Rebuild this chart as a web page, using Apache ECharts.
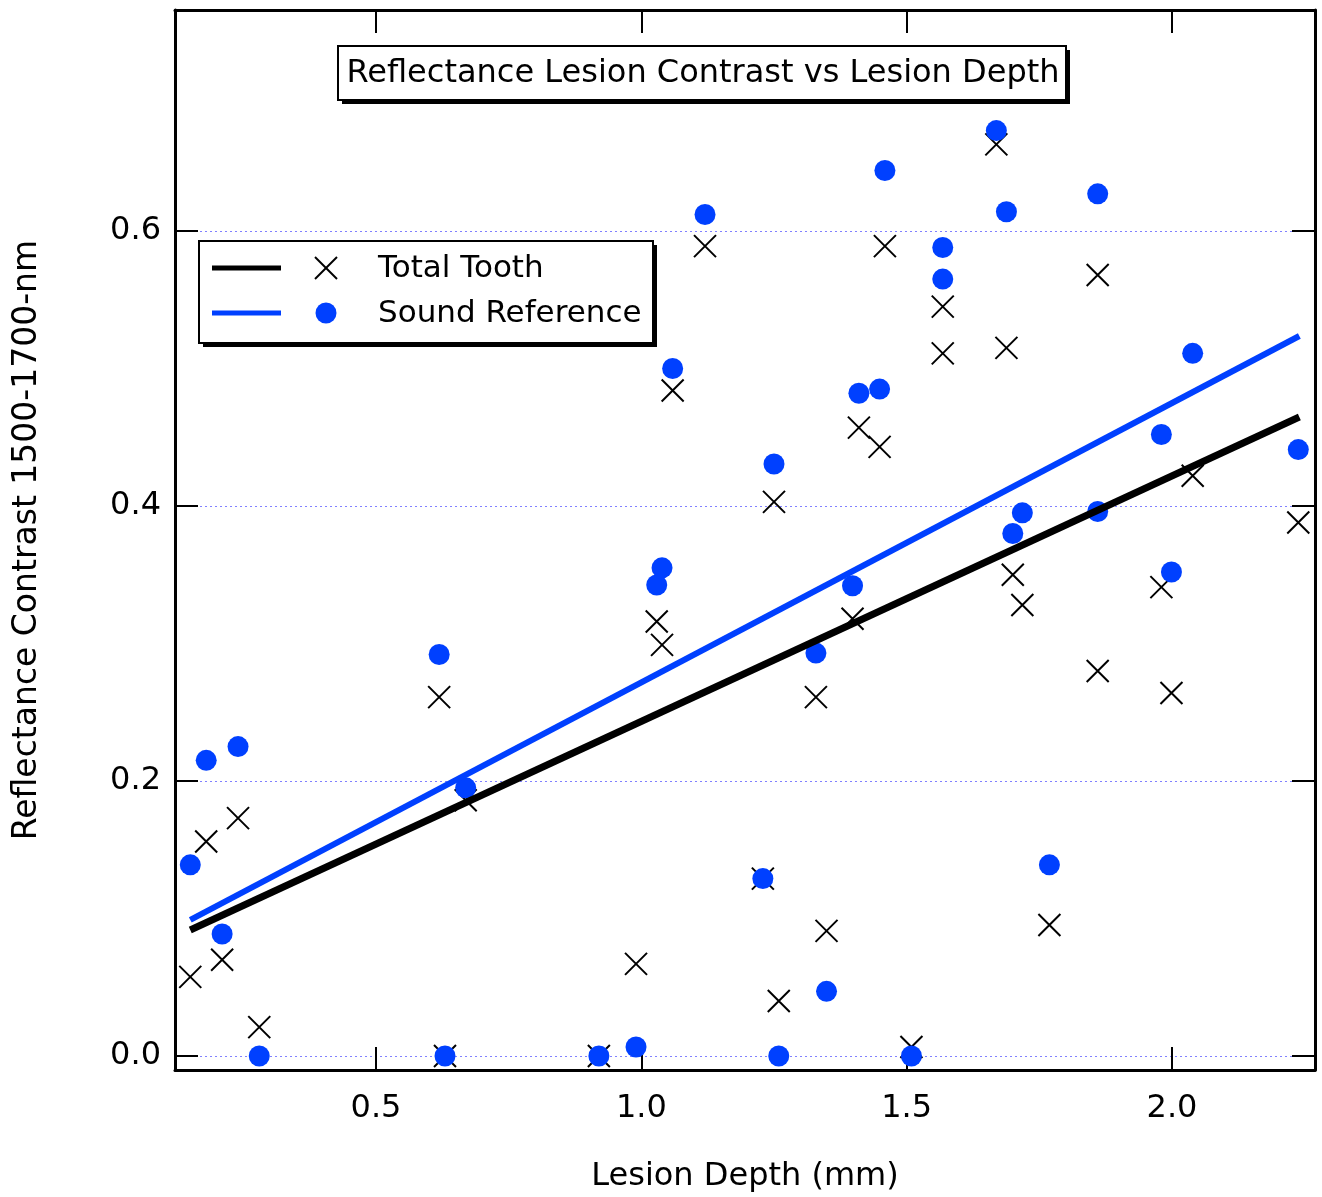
<!DOCTYPE html>
<html>
<head>
<meta charset="utf-8">
<script src="https://cdn.jsdelivr.net/npm/echarts@6/dist/echarts.min.js"></script>
<style>
html,body{margin:0;padding:0;background:#fff;}
#chart{width:1322px;height:1197px;}
</style>
</head>
<body>
<div id="chart"></div>
<script>
// ---- data ----
const depth = [0.150,0.180,0.210,0.240,0.280,0.619,0.630,0.669,0.920,0.990,1.029,1.039,1.059,1.120,1.229,1.250,1.259,1.329,1.349,1.398,1.410,1.449,1.459,1.509,1.568,1.568,1.669,1.688,1.700,1.718,1.769,1.860,1.860,1.980,1.999,2.039,2.238];
const totalTooth = [0.0575,0.156,0.070,0.173,0.021,0.261,0.000,0.186,0.000,0.067,0.316,0.299,0.484,0.589,0.129,0.403,0.040,0.261,0.091,0.318,0.457,0.443,0.589,0.0065,0.545,0.511,0.663,0.515,0.350,0.328,0.0953,0.568,0.280,0.341,0.264,0.422,0.388];
const soundRef = [0.139,0.215,0.0887,0.225,0.000,0.292,0.000,0.195,0.000,0.0065,0.3425,0.355,0.500,0.612,0.129,0.4305,0.000,0.293,0.047,0.342,0.482,0.485,0.644,0.000,0.588,0.565,0.673,0.614,0.380,0.395,0.139,0.627,0.396,0.452,0.352,0.511,0.441];
const fitTotal = [[0.150,0.0916],[2.240,0.4647]];
const fitSound = [[0.150,0.0990],[2.240,0.5236]];
const xTicks = [0.5,1.0,1.5,2.0];
const yTicks = [0.0,0.2,0.4,0.6];
const titleText = 'Reflectance Lesion Contrast vs Lesion Depth';
const xTitle = 'Lesion Depth (mm)';
const yTitle = 'Reflectance Contrast 1500-1700-nm';
const legendNames = ['Total Tooth','Sound Reference'];

const BLUE = '#0040ff';
const FONT = 'DejaVu Sans';
const X_MIN = 0.1212, X_MAX = 2.2695, Y_MIN = -0.0102, Y_MAX = 0.7607;
const CROSS = 'path://M0,0L10,10M10,0L0,10';

const chart = echarts.init(document.getElementById('chart'), null, {renderer:'canvas'});

function zip(a,b){ return a.map((v,i)=>[v,b[i]]); }

const tick = (vals)=>({show:true, inside:true, length:23, lineStyle:{color:'#000', width:2}, customValues:vals});
const axisLine = {show:true, onZero:false, lineStyle:{color:'#000', width:3}};

const option = {
  backgroundColor:'#fff',
  animation:false,
  grid:{left:175, top:10, width:1140, height:1060, containLabel:false, outerBoundsMode:'none'},
  xAxis:[
    {
      type:'value', position:'bottom', min:X_MIN, max:X_MAX,
      axisLine:axisLine, axisTick:tick(xTicks), splitLine:{show:false},
      name:xTitle, nameLocation:'middle', nameGap:91,
      nameTextStyle:{fontFamily:FONT, fontSize:32, color:'#000'},
      axisLabel:{show:true, margin:23, fontFamily:FONT, fontSize:32, color:'#000', customValues:xTicks,
        formatter:v=>v.toFixed(1)}
    },
    {
      type:'value', position:'top', min:X_MIN, max:X_MAX,
      axisLine:axisLine, axisTick:tick(xTicks), splitLine:{show:false},
      axisLabel:{show:false}
    }
  ],
  yAxis:[
    {
      type:'value', position:'left', min:Y_MIN, max:Y_MAX,
      axisLine:axisLine, axisTick:tick(yTicks),
      name:yTitle, nameLocation:'middle', nameGap:131, nameRotate:90,
      nameTextStyle:{fontFamily:FONT, fontSize:33, color:'#000'},
      axisLabel:{show:true, margin:14, fontFamily:FONT, fontSize:32, color:'#000', customValues:yTicks,
        formatter:v=>v.toFixed(1)},
      splitLine:{show:true, lineStyle:{color:'#8080ff', width:1, type:[2,3]}}
    },
    {
      type:'value', position:'right', min:Y_MIN, max:Y_MAX,
      axisLine:axisLine, axisTick:tick(yTicks), splitLine:{show:false},
      axisLabel:{show:false}
    }
  ],
  series:[
    {
      name:legendNames[0], type:'scatter', xAxisIndex:0, yAxisIndex:0,
      data:zip(depth,totalTooth), symbol:CROSS, symbolSize:22, z:2,
      itemStyle:{color:'rgba(0,0,0,0)', borderColor:'#000', borderWidth:2, opacity:1}
    },
    {
      name:legendNames[1], type:'scatter', xAxisIndex:0, yAxisIndex:0,
      data:zip(depth,soundRef), symbol:'circle', symbolSize:21, z:3,
      itemStyle:{color:BLUE, borderWidth:0, opacity:1}
    },
    {
      name:'fitTotal', type:'line', data:fitTotal, symbol:'none', z:4,
      lineStyle:{color:'#000', width:7}
    },
    {
      name:'fitSound', type:'line', data:fitSound, symbol:'none', z:4,
      lineStyle:{color:BLUE, width:6}
    }
  ],
  graphic:[
    // title box
    {type:'rect', shape:{x:342, y:50, width:728, height:54}, style:{fill:'#000'}, z:10},
    {type:'rect', shape:{x:338, y:46, width:728, height:54}, style:{fill:'#fff', stroke:'#000', lineWidth:2}, z:11},
    {type:'text', x:703, y:74, style:{text:titleText, font:'32px "DejaVu Sans"', fill:'#000', align:'center', verticalAlign:'middle'}, z:12},
    // legend box
    {type:'rect', shape:{x:203, y:245, width:454, height:102}, style:{fill:'#000'}, z:10},
    {type:'rect', shape:{x:199, y:241, width:454, height:102}, style:{fill:'#fff', stroke:'#000', lineWidth:2}, z:11},
    {type:'line', shape:{x1:212, y1:268, x2:281, y2:268}, style:{stroke:'#000', lineWidth:5}, z:12},
    {type:'line', shape:{x1:315, y1:257, x2:337, y2:279}, style:{stroke:'#000', lineWidth:2}, z:12},
    {type:'line', shape:{x1:337, y1:257, x2:315, y2:279}, style:{stroke:'#000', lineWidth:2}, z:12},
    {type:'text', x:378, y:269, style:{text:legendNames[0], font:'31px "DejaVu Sans"', fill:'#000', align:'left', verticalAlign:'middle'}, z:12},
    {type:'line', shape:{x1:212, y1:313, x2:281, y2:313}, style:{stroke:BLUE, lineWidth:5}, z:12},
    {type:'circle', shape:{cx:326, cy:313, r:10.5}, style:{fill:BLUE}, z:12},
    {type:'text', x:378, y:314, style:{text:legendNames[1], font:'31px "DejaVu Sans"', fill:'#000', align:'left', verticalAlign:'middle'}, z:12}
  ]
};
chart.setOption(option);
</script>
</body>
</html>
